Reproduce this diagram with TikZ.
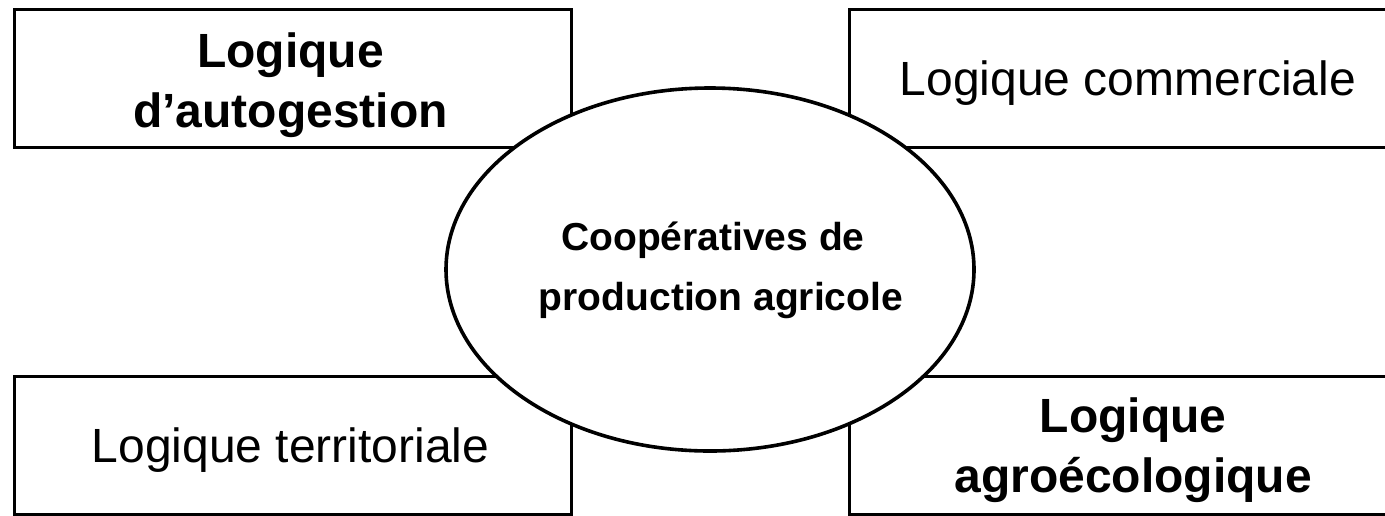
\documentclass[tikz,border=0pt]{standalone}
\usepackage{fontspec}
\setmainfont{Liberation Sans}
\usetikzlibrary{shapes.geometric}
\begin{document}
\begin{tikzpicture}[x=0.5pt,y=-0.5pt,
  box/.style={draw=black, line width=1.5pt, fill=white, rectangle, inner sep=0pt,
    minimum width=278.5pt, minimum height=69pt},
  bigtxt/.style={font=\fontsize{24}{28}\selectfont, inner sep=0pt, anchor=base},
  bigbold/.style={font=\fontsize{24}{28}\selectfont\bfseries, inner sep=0pt, anchor=base},
  midbold/.style={font=\fontsize{19.5}{23}\selectfont\bfseries, inner sep=0pt, anchor=base},
  oval/.style={ellipse, draw=black, line width=1.8pt, fill=white, inner sep=0pt,
    minimum width=264pt, minimum height=181.5pt}]
\useasboundingbox (0,0) rectangle (1385,515);
\fill[white] (0,0) rectangle (1385,515);
% boxes
\node[box] (tl) at (292.5,78) {};
\node[box, minimum width=276pt] (tr) at (1125,78) {};
\node[box] (bl) at (292.5,445) {};
\node[box, minimum width=276pt] (br) at (1125,445) {};
% ellipse
\node[oval] (c) at (710,269.5) {};
% texts
\node[bigbold] (tl1) at (290.5,67) {Logique};
\node[bigbold] (tl2) at (290.5,127) {d’autogestion};
\node[bigtxt] (tr1) at (1128,95) {Logique commerciale};
\node[bigtxt] (bl1) at (290.5,462) {Logique territoriale};
\node[bigbold] (br1) at (1133,432) {Logique};
\node[bigbold] (br2) at (1133,492) {agroécologique};
\node[midbold] (c1) at (713,250) {Coopératives de};
\node[midbold] (c2) at (721,310) {production agricole};
\end{tikzpicture}
\end{document}
